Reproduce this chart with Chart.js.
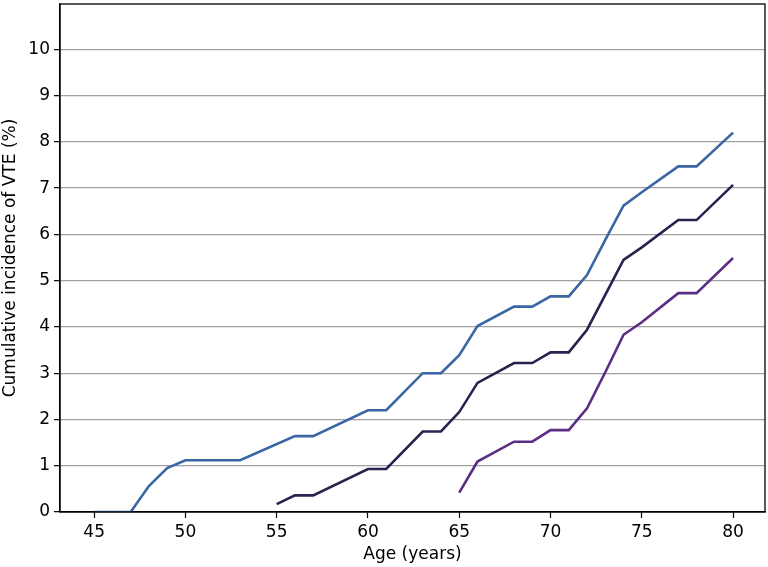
<!DOCTYPE html>
<html>
<head>
<meta charset="utf-8">
<script src="https://cdn.jsdelivr.net/npm/chart.js@4/dist/chart.umd.min.js"></script>
<style>
html,body{margin:0;padding:0;background:#fff;}
#wrap{width:768px;height:567px;}
</style>
</head>
<body>
<div id="wrap"><canvas id="c" width="768" height="567"></canvas></div>
<script>
const ages = [45,46,47,48,49,50,51,52,53,54,55,56,57,58,59,60,61,62,63,64,65,66,67,68,69,70,71,72,73,74,75,76,77,78,79,80];
const seriesA = [0,0,0,0.56,0.95,1.12,null,null,1.12,null,null,1.64,1.64,null,null,2.2,2.2,null,3.0,3.0,3.39,4.02,null,4.44,4.44,4.66,4.66,5.12,5.88,6.62,6.91,null,7.47,7.47,null,8.2];
const seriesB = [null,null,null,null,null,null,null,null,null,null,0.17,0.36,0.36,null,null,0.93,0.93,null,1.74,1.74,2.16,2.79,null,3.22,3.22,3.45,3.45,3.94,null,5.45,5.72,null,6.31,6.31,null,7.07];
const seriesC = [null,null,null,null,null,null,null,null,null,null,null,null,null,null,null,null,null,null,null,null,0.42,1.09,null,1.52,1.52,1.77,1.77,2.24,3.02,3.83,4.1,null,4.73,4.73,null,5.49];
const xTicks = [45,50,55,60,65,70,75,80];
const yTicks = [0,1,2,3,4,5,6,7,8,9,10];

function pts(vals){ return ages.map((a,i)=>({x:a,y:vals[i]})); }

const frame = {
  id:'frame',
  afterDraw(chart){
    const {ctx, chartArea:a} = chart;
    ctx.save();
    ctx.strokeStyle='#000';
    ctx.lineWidth=1.3;
    ctx.strokeRect(a.left, a.top, a.right-a.left, a.bottom-a.top);
    ctx.restore();
  }
};

const font = {family:"'DejaVu Sans', sans-serif", size:17};
new Chart(document.getElementById('c'), {
  type:'line',
  data:{datasets:[
    {data:pts(seriesA), borderColor:'#3a66a3', borderWidth:2.6, pointRadius:0, spanGaps:true, tension:0},
    {data:pts(seriesB), borderColor:'#27234f', borderWidth:2.6, pointRadius:0, spanGaps:true, tension:0},
    {data:pts(seriesC), borderColor:'#5c2d84', borderWidth:2.6, pointRadius:0, spanGaps:true, tension:0}
  ]},
  options:{
    responsive:false, animation:false,
    layout:{padding:{left:0,top:4,right:3,bottom:0}},
    plugins:{legend:{display:false}, tooltip:{enabled:false}},
    scales:{
      x:{type:'linear', min:43.13, max:81.75,
        afterBuildTicks(s){ s.ticks = xTicks.map(v=>({value:v})); },
        afterFit(s){ s.height = 55; s.paddingLeft = 0; s.paddingRight = 0; },
        ticks:{font, color:'#000', padding:4, maxRotation:0},
        grid:{drawOnChartArea:false, tickLength:6, tickColor:'#000', tickWidth:1.2},
        border:{display:true, color:'#000', width:1.3},
        title:{display:true, text:'Age (years)', font, color:'#000', padding:{top:0,bottom:2}}
      },
      y:{type:'linear', min:0, max:10.98,
        afterBuildTicks(s){ s.ticks = yTicks.map(v=>({value:v})); },
        afterFit(s){ s.width = 60; s.paddingTop = 0; s.paddingBottom = 0; },
        ticks:{font, color:'#000', padding:4},
        grid:{color:'#a0a0a0', lineWidth:1.3, tickLength:6, tickColor:'#000', tickWidth:1.2},
        border:{display:true, color:'#000', width:1.3},
        title:{display:true, text:'Cumulative incidence of VTE (%)', font, color:'#000', padding:{top:0,bottom:4}}
      }
    }
  },
  plugins:[frame]
});
</script>
</body>
</html>
